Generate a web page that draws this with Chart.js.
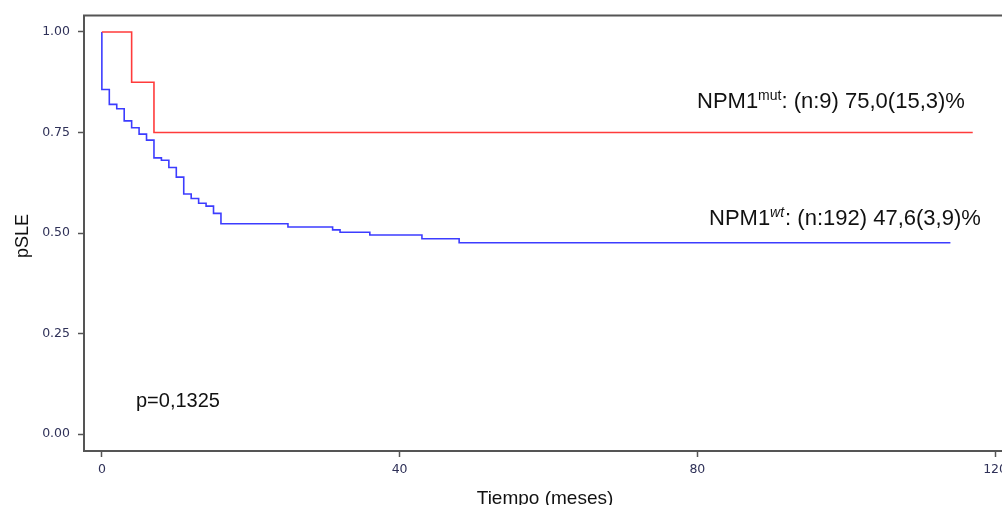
<!DOCTYPE html>
<html>
<head>
<meta charset="utf-8">
<script src="https://cdn.jsdelivr.net/npm/chart.js@4.4.1/dist/chart.umd.min.js"></script>
<style>
  html, body { margin: 0; padding: 0; background: #ffffff; overflow: hidden; }
  #wrap { position: relative; width: 1012px; height: 505px; }
</style>
</head>
<body>
<div id="wrap"><canvas id="kmChart"></canvas></div>
<script>
// Kaplan-Meier data (time in months, survival fraction)
const wtTimes = [0, 0, 1, 2, 3, 4, 5, 6, 7, 8, 9, 10, 11, 12, 13, 14, 15, 16, 25, 31, 32, 36, 43, 48, 114];
const wtSurv  = [1.0, 0.857, 0.820, 0.809, 0.779, 0.762, 0.746, 0.731, 0.687, 0.681, 0.663, 0.639, 0.597,
                 0.586, 0.574, 0.567, 0.549, 0.523, 0.515, 0.508, 0.502, 0.495, 0.486, 0.476, 0.476];

const mutTimes = [0, 4, 7, 117];
const mutSurv  = [1.0, 0.875, 0.75, 0.75];

// Tick labels for both axes
const xTicks = [0, 40, 80, 120];
const yTicks = [0, 0.25, 0.5, 0.75, 1.0];

const tickColor = '#2f3158';
const axisColor = '#555555';

// Pair the times and survival values into points for the stepped lines
function toPoints(times, surv) {
    return times.map((t, i) => ({ x: t, y: surv[i] }));
}

// Extra drawing: top border of the box, axis titles and the text labels
const annotations = {
    id: 'annotations',
    afterDraw(chart) {
        const c = chart.ctx;
        const area = chart.chartArea;
        c.save();

        // top border line
        c.strokeStyle = axisColor;
        c.lineWidth = 2;
        c.beginPath();
        c.moveTo(area.left - 1, area.top);
        c.lineTo(area.right, area.top);
        c.stroke();

        c.fillStyle = '#111111';
        c.textBaseline = 'alphabetic';

        // label with a superscript part
        function supLabel(x, y, base, sup, rest, italic) {
            c.font = '22px "Liberation Sans", Arial, sans-serif';
            c.fillText(base, x, y);
            let w = c.measureText(base).width;
            c.font = (italic ? 'italic ' : '') + '14px "Liberation Sans", Arial, sans-serif';
            c.fillText(sup, x + w, y - 8);
            w += c.measureText(sup).width + (italic ? 1 : 0);
            c.font = '22px "Liberation Sans", Arial, sans-serif';
            c.fillText(rest, x + w, y);
        }
        supLabel(697, 108, 'NPM1', 'mut', ': (n:9) 75,0(15,3)%', false);
        supLabel(709, 225, 'NPM1', 'wt', ': (n:192) 47,6(3,9)%', true);

        // log-rank p value
        c.font = '20px "Liberation Sans", Arial, sans-serif';
        c.fillText('p=0,1325', 136, 407);

        // x axis title
        c.font = '19px "Liberation Sans", Arial, sans-serif';
        c.textAlign = 'center';
        c.fillText('Tiempo (meses)', 545, 504);

        // y axis title (rotated)
        c.translate(28, 236);
        c.rotate(-Math.PI / 2);
        c.font = '18px "Liberation Sans", Arial, sans-serif';
        c.fillText('pSLE', 0, 0);

        c.restore();
    }
};

const ctx = document.getElementById('kmChart').getContext('2d');

const chart = new Chart(ctx, {
    type: 'line',
    data: {
        datasets: [
            {
                label: 'NPM1 mut',
                data: toPoints(mutTimes, mutSurv),
                stepped: 'before', // horizontal first, then drop
                borderColor: '#ff3b3b',
                borderWidth: 1.6,
                pointRadius: 0,
                fill: false
            },
            {
                label: 'NPM1 wt',
                data: toPoints(wtTimes, wtSurv),
                stepped: 'before',
                borderColor: '#3c3cff',
                borderWidth: 1.6,
                pointRadius: 0,
                fill: false
            }
        ]
    },
    options: {
        responsive: true,
        maintainAspectRatio: false,
        animation: false,
        layout: { padding: { top: 13, left: 0, right: 0, bottom: 0 } },
        plugins: {
            legend: { display: false },
            tooltip: { enabled: false }
        },
        scales: {
            x: {
                type: 'linear',
                min: -2.4,
                max: 122.1,
                afterFit: scale => { scale.height = 54; },
                afterBuildTicks: scale => { scale.ticks = xTicks.map(v => ({ value: v })); },
                border: { display: true, color: axisColor, width: 2 },
                grid: { drawOnChartArea: false, drawTicks: true, tickLength: 6, color: axisColor, tickWidth: 1.5 },
                ticks: {
                    color: tickColor,
                    padding: 5,
                    maxRotation: 0,
                    font: { family: '"DejaVu Sans", Verdana, sans-serif', size: 12.5 },
                    callback: value => String(value)
                }
            },
            y: {
                type: 'linear',
                min: -0.042,
                max: 1.041,
                afterFit: scale => { scale.width = 84; },
                afterBuildTicks: scale => { scale.ticks = yTicks.map(v => ({ value: v })); },
                border: { display: true, color: axisColor, width: 2 },
                grid: { drawOnChartArea: false, drawTicks: true, tickLength: 6, color: axisColor, tickWidth: 1.5 },
                ticks: {
                    color: tickColor,
                    padding: 8,
                    font: { family: '"DejaVu Sans", Verdana, sans-serif', size: 12.5 },
                    callback: value => value.toFixed(2)
                }
            }
        }
    },
    plugins: [annotations]
});
</script>
</body>
</html>
